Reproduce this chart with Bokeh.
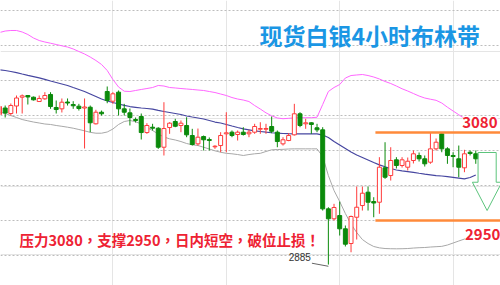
from bokeh.plotting import figure
from bokeh.models import Range1d, FixedTicker, Label, ColumnDataSource, Grid
from bokeh.embed import file_html
from bokeh.resources import INLINE

# ---------------- data ----------------
opens = [3106.6, 3116.2, 3108.1, 3119.2, 3132.2, 3134.7, 3132.2, 3125.8, 3129.8, 3136.2,
         3117.0, 3115.0, 3125.1, 3121.4, 3118.9, 3116.2, 3117.4, 3092.9, 3110.0, 3140.6,
         3126.3, 3139.6, 3115.0, 3109.1, 3099.2, 3103.7, 3080.0, 3087.9, 3086.4, 3058.3,
         3087.4, 3096.3, 3090.4, 3090.4, 3075.6, 3063.3, 3074.1, 3069.7, 3058.9, 3060.8,
         3078.1, 3080.5, 3077.1, 3080.5, 3078.1, 3080.5, 3084.9, 3084.9, 3088.9, 3080.5,
         3063.3, 3068.2, 3076.6, 3107.7, 3092.9, 3094.4, 3087.0, 3084.0, 2967.3, 2952.6,
         2957.4, 2937.8, 2916.1, 2954.9, 2972.2, 2991.9, 2978.1, 2977.1, 3027.9, 3016.5,
         3039.7, 3031.3, 3028.8, 3038.7, 3046.1, 3041.2, 3036.2, 3055.9, 3078.1, 3055.9,
         3046.1, 3041.2, 3027.9, 3050.9, 3048.6]
closes = [3118.4, 3108.8, 3119.9, 3131.0, 3134.2, 3132.5, 3128.3, 3130.3, 3134.7, 3118.4,
          3114.0, 3124.8, 3123.6, 3119.5, 3115.5, 3117.7, 3094.4, 3110.0, 3107.7, 3127.3,
          3137.2, 3115.0, 3110.0, 3102.2, 3097.8, 3080.0, 3090.4, 3086.4, 3058.3, 3085.9,
          3093.8, 3089.3, 3093.8, 3076.6, 3062.3, 3073.1, 3069.3, 3068.2, 3059.8, 3075.6,
          3079.6, 3075.6, 3080.5, 3077.1, 3080.5, 3088.9, 3085.9, 3085.9, 3081.9, 3066.7,
          3069.3, 3075.6, 3107.7, 3090.4, 3094.4, 3091.9, 3084.0, 2967.3, 2952.6, 2969.3,
          2937.8, 2915.1, 2956.0, 2969.7, 2990.4, 2977.1, 2975.9, 3028.8, 3014.0, 3038.7,
          3031.3, 3039.7, 3037.6, 3048.6, 3041.2, 3033.8, 3055.9, 3065.7, 3055.9, 3046.1,
          3044.6, 3028.8, 3048.6, 3049.0, 3041.2]
highs = [3121.4, 3119.9, 3122.9, 3134.7, 3136.2, 3135.4, 3133.2, 3134.7, 3139.6, 3139.6,
         3127.3, 3130.3, 3130.3, 3126.3, 3122.4, 3130.3, 3119.9, 3113.6, 3112.5, 3148.0,
         3139.6, 3142.1, 3122.4, 3115.5, 3102.2, 3108.1, 3093.8, 3092.9, 3087.9, 3124.8,
         3095.2, 3100.3, 3097.8, 3102.6, 3085.5, 3085.9, 3075.6, 3072.7, 3061.3, 3080.5,
         3110.0, 3083.0, 3083.0, 3087.9, 3084.0, 3092.9, 3095.2, 3092.9, 3103.7, 3083.0,
         3073.1, 3079.0, 3122.4, 3110.0, 3100.3, 3095.2, 3092.9, 3087.9, 2969.7, 2974.7,
         2978.1, 2942.7, 2957.4, 3000.3, 3000.3, 3000.3, 2984.5, 3043.6, 3065.7, 3058.3,
         3043.6, 3043.6, 3043.1, 3053.5, 3050.5, 3046.1, 3080.5, 3071.2, 3080.5, 3058.3,
         3050.9, 3060.8, 3054.5, 3053.5, 3053.5]
lows = [3102.2, 3102.2, 3105.1, 3108.1, 3108.1, 3121.4, 3127.3, 3125.1, 3128.3, 3115.0,
        3108.1, 3109.6, 3119.9, 3115.0, 3112.5, 3056.4, 3080.5, 3091.9, 3105.1, 3123.3,
        3122.4, 3105.1, 3105.1, 3090.4, 3094.8, 3069.7, 3078.1, 3083.0, 3055.9, 3046.1,
        3078.1, 3087.9, 3080.5, 3073.1, 3060.8, 3060.8, 3053.5, 3053.5, 3055.9, 3050.9,
        3050.9, 3073.1, 3068.2, 3075.6, 3073.1, 3078.1, 3078.1, 3078.1, 3079.0, 3058.3,
        3060.8, 3067.2, 3075.6, 3087.9, 3085.5, 3078.1, 3080.5, 2964.8, 2885.0, 2950.1,
        2927.9, 2911.7, 2903.2, 2922.0, 2964.8, 2964.8, 2954.9, 2960.0, 3011.6, 3009.1,
        3026.9, 3028.3, 3023.9, 3034.3, 3037.2, 3029.8, 3033.8, 3053.5, 3050.9, 3033.8,
        3028.8, 3014.0, 3021.4, 3046.1, 3033.8]

boll_upper = [3227.7, 3229.9, 3230.7, 3230.7, 3228.5, 3224.8, 3219.6, 3215.9, 3213.7, 3211.9,
              3210.0, 3208.1, 3206.3, 3203.4, 3199.7, 3196.0, 3191.5, 3186.4, 3180.5, 3171.6,
              3158.3, 3147.2, 3141.0, 3140.6, 3142.1, 3143.6, 3145.0, 3146.5, 3149.5, 3148.7,
              3146.5, 3145.8, 3145.0, 3144.3, 3143.6, 3142.8, 3142.1, 3140.6, 3139.1, 3136.9,
              3134.7, 3131.7, 3129.5, 3128.0, 3125.8, 3119.9, 3114.7, 3109.1, 3104.7, 3101.5,
              3100.4, 3101.0, 3101.7, 3101.9, 3101.9, 3101.9, 3102.6, 3121.4, 3140.6, 3146.5,
              3150.9, 3160.5, 3164.2, 3165.0, 3165.7, 3164.2, 3162.0, 3159.1, 3155.4, 3152.4,
              3148.7, 3144.6, 3141.3, 3137.6, 3133.9, 3131.0, 3129.2, 3127.6, 3123.6, 3117.4,
              3111.8, 3106.3, 3100.7, 3095.5, 3090.4]
boll_mid = [3172.8, 3171.6, 3170.1, 3168.4, 3166.4, 3164.5, 3162.7, 3160.8, 3158.6, 3156.1,
            3153.9, 3151.7, 3149.5, 3146.5, 3143.6, 3140.6, 3136.9, 3133.2, 3129.5, 3126.6,
            3124.3, 3122.1, 3120.2, 3118.4, 3117.3, 3116.2, 3115.5, 3114.6, 3112.8, 3111.1,
            3109.6, 3108.1, 3106.6, 3104.4, 3102.9, 3101.5, 3100.0, 3097.8, 3095.5, 3094.1,
            3091.9, 3089.6, 3087.4, 3085.5, 3084.0, 3082.5, 3081.5, 3080.5, 3079.7, 3079.0,
            3078.6, 3078.3, 3078.1, 3078.1, 3078.1, 3078.1, 3078.1, 3076.3, 3072.7, 3066.7,
            3061.6, 3056.4, 3051.2, 3046.8, 3043.1, 3039.4, 3035.7, 3032.3, 3029.4, 3026.9,
            3024.7, 3023.5, 3022.4, 3021.3, 3019.9, 3018.7, 3017.6, 3016.5, 3015.8, 3015.0,
            3013.9, 3012.8, 3011.6, 3013.6, 3017.3]
boll_lower = [3110.3, 3108.1, 3105.1, 3102.2, 3099.2, 3097.3, 3095.5, 3094.1, 3092.6, 3091.9,
              3090.4, 3089.2, 3087.9, 3086.4, 3084.5, 3082.5, 3080.3, 3079.0, 3079.0, 3080.8,
              3085.2, 3091.9, 3096.3, 3097.8, 3096.0, 3092.6, 3087.4, 3083.0, 3077.8, 3073.4,
              3070.7, 3069.0, 3066.7, 3063.8, 3061.9, 3060.8, 3058.3, 3055.7, 3053.0, 3050.9,
              3049.3, 3048.6, 3047.5, 3046.1, 3047.5, 3048.6, 3049.3, 3052.0, 3054.5, 3054.9,
              3055.2, 3055.7, 3055.9, 3055.9, 3055.9, 3055.9, 3055.9, 3044.6, 3016.5, 2994.4,
              2978.1, 2960.4, 2944.9, 2932.3, 2922.0, 2916.1, 2911.7, 2909.7, 2908.7, 2908.4,
              2908.3, 2908.4, 2908.7, 2909.4, 2909.9, 2910.2, 2910.9, 2911.4, 2911.9, 2913.9,
              2916.8, 2919.8, 2922.7, 2925.7, 2928.6]

grid_levels = [2898.5, 2950.0, 3001.6, 3053.2, 3104.8, 3156.4, 3208.0, 3259.6]
levels = [3080, 2950]
level_labels = ["3080", "2950"]
level_start = 66.3
low_index = 58
low_label = "2885"
arrow_x = [84.4, 87.6, 87.6, 88.6, 86.0, 83.4, 84.4]
arrow_y = [3050.5, 3050.5, 3006.6, 3006.6, 2964.8, 3006.6, 3006.6]

title_text = "现货白银4小时布林带"
note_text = "压力3080，支撑2950，日内短空，破位止损！"

# ---------------- styling ----------------
UP = "#FF3B3B"
DOWN = "#0B8A0B"
CJK = "Noto Sans CJK SC"

n = len(opens)
xs = list(range(n))
is_up = [c >= o for o, c in zip(opens, closes)]
src = ColumnDataSource(dict(
    x=xs, high=highs, low=lows,
    top=[max(o, c) for o, c in zip(opens, closes)],
    bottom=[min(o, c) for o, c in zip(opens, closes)],
    color=[UP if u else DOWN for u in is_up],
    fill=["white" if u else DOWN for u in is_up],
))

p = figure(width=500, height=285, output_backend="svg", toolbar_location=None,
           x_range=Range1d(0.176, 88.36), y_range=Range1d(2854.1, 3275.0),
           x_axis_location=None, y_axis_location=None, min_border=0)
p.outline_line_color = None
p.background_fill_color = "white"
p.border_fill_color = "white"

grid = Grid(dimension=1, ticker=FixedTicker(ticks=grid_levels),
            grid_line_color="#BDBDBD", grid_line_dash="2 2", grid_line_width=1)
p.add_layout(grid)

# Bollinger bands
p.line(xs, boll_upper, line_color="#FF66FF", line_width=1)
p.line(xs, boll_mid, line_color="#4646A0", line_width=1.2)
p.line(xs, boll_lower, line_color="#A8A8A8", line_width=1)

# candles
p.segment(x0="x", x1="x", y0="high", y1="low", line_color="color", line_width=1, source=src)
p.vbar(x="x", width=0.7, top="top", bottom="bottom", fill_color="fill",
       line_color="color", line_width=1, source=src)

# support / resistance
p.segment(x0=[level_start] * len(levels), x1=[89.0] * len(levels), y0=levels, y1=levels,
          line_color="#FF8A3A", line_width=2.5, level="overlay")

# arrow
p.patch(arrow_x, arrow_y, fill_alpha=0, line_color="#5CC47C", line_width=1)

# low pointer
p.segment(x0=[low_index - 2.9], y0=[lows[low_index] + 2.0], x1=[low_index], y1=[lows[low_index] - 2.5],
          line_color="#666666", line_width=1)

for lv, txt in zip(levels, level_labels):
    p.add_layout(Label(x=81.6 if lv == levels[0] else 82.1,
                       y=lv + 14.1 if lv == levels[0] else lv - 20.6,
                       text=txt, text_font=CJK, text_font_size="15px", text_font_style="bold",
                       text_color="#EE2233", text_baseline="middle", text_align="left",
                       background_fill_color="white"))

p.add_layout(Label(x=51.0, y=lows[low_index] + 11.2, text=low_label, text_font="Liberation Sans",
                   text_font_size="10px", text_color="#333333",
                   text_baseline="middle", text_align="left"))

p.add_layout(Label(x=259, y=285 - 34, x_units="screen", y_units="screen", text=title_text,
                   text_font=CJK, text_font_size="23px", text_font_style="bold",
                   text_color="#1A96E4", text_baseline="middle", text_align="left"))

p.add_layout(Label(x=19, y=285 - 239, x_units="screen", y_units="screen", text=note_text,
                   text_font="Noto Sans CJK TC", text_font_size="14.5px", text_font_style="bold",
                   text_color="#EE2233", text_baseline="middle", text_align="left"))

open("out.html", "w").write(file_html(p, INLINE))
